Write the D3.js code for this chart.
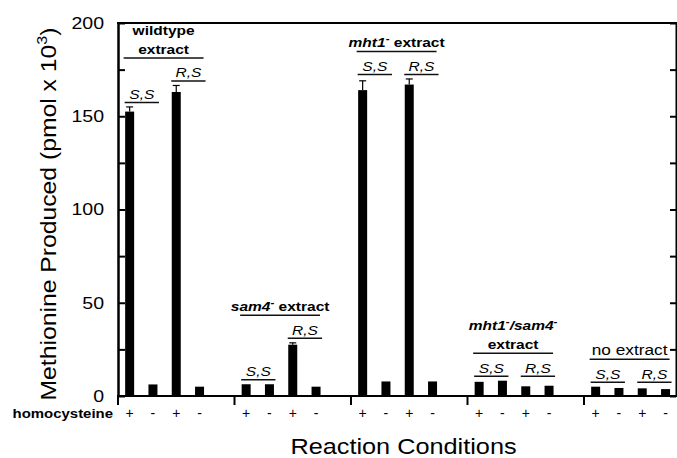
<!DOCTYPE html>
<head>
  <meta charset="utf-8">
  <title>Methionine Produced</title>
  <style>
    body {
      margin: 0;
      padding: 0;
      background-color: #fff;
    }
    svg text {
      font-family: 'Liberation Sans', Arial, Helvetica, sans-serif;
      fill: #000;
    }
    .frame line, .frame path {
      stroke: #000;
      stroke-width: 2;
    }
    .underline {
      stroke: #111;
      stroke-width: 1.5;
    }
  </style>
</head>
<body>
  <div id="vis"></div>

  <script src="https://cdn.jsdelivr.net/npm/d3@7"></script>
  <script>
    // extracts, 4 reactions each: S,S +/-, R,S +/- homocysteine
    var groupLabels = [
      ["wildtype", "extract"],
      ["_sam4_^ extract"],
      ["_mht1_^ extract"],
      ["_mht1_^_/sam4_^", "extract"],
      ["no extract"]
    ];
    var isomers = ["S,S", "S,S", "R,S", "R,S"];
    var homocysteine = ["+", "-", "+", "-"];
    var methionine = [
      [152.5, 6.2, 163, 5],
      [6.3, 6.3, 27.5, 5],
      [164, 7.8, 167, 7.8],
      [7.6, 8.2, 5.2, 5.5],
      [5, 4.3, 4.1, 3.7]
    ];
    var errors = [
      [2.5, 0, 3.5, 0],
      [0, 0, 1, 0],
      [5, 0, 3, 0],
      [0, 0, 0, 0],
      [0, 0, 0, 0]
    ];
    var yTicks = [0, 50, 100, 150, 200];
    var yMinor = [25, 75, 125, 175];

    var W = 677, H = 458,
        plotL = 118, plotR = 676, plotT = 23, plotB = 396,
        slotW = 23.3, barW = 9,
        SX = 1.15;   // the source type is a little wider than Liberation Sans

    var svg = d3.select("#vis").append("svg")
      .attr("width", W)
      .attr("height", H);

    var y = d3.scaleLinear().domain([0, 200]).range([plotB, plotT]);
    // 5 slots per extract: 4 bars and a gap
    var x = d3.scaleLinear().domain([0, 25]).range([plotL, plotL + slotW * 25]);
    function xc(slot) { return x(slot + 0.5); }

    var bars = [];
    methionine.forEach(function(row, g) {
      row.forEach(function(v, i) {
        bars.push({ g: g, i: i, v: v, e: errors[g][i], slot: g * 5 + i });
      });
    });

    function stretched(sel, px, py, anchor) {
      return sel.append("text")
        .attr("transform", "translate(" + px + "," + py + ") scale(" + SX + ",1)")
        .attr("text-anchor", anchor || "middle");
    }

    // "_x_" is italic, "^" a small superscript minus
    function rich(text, str) {
      var parts = str.split(/(_[^_]*_|\^)/).filter(function(p) { return p.length; });
      var raised = false;
      parts.forEach(function(p) {
        var t = text.append("tspan");
        if (p == "^") {
          t.text("-").attr("font-size", 10).attr("dy", -5);
          raised = true;
          return;
        }
        if (raised) { t.attr("dy", 5); raised = false; }
        if (p[0] == "_") {
          t.text(p.slice(1, -1)).attr("font-style", "italic");
        } else {
          t.text(p);
        }
      });
    }

    // bars
    svg.append("g").selectAll("rect")
      .data(bars)
      .enter().append("rect")
        .attr("x", function(d) { return xc(d.slot) - barW / 2; })
        .attr("width", barW)
        .attr("y", function(d) { return y(d.v); })
        .attr("height", function(d) { return y(0) - y(d.v); })
        .attr("fill", "#000");

    // error bars
    var err = svg.append("g").selectAll("g")
      .data(bars.filter(function(d) { return d.e > 0; }))
      .enter().append("g")
        .attr("stroke", "#000")
        .attr("stroke-width", 1.2);
    err.append("line")
      .attr("x1", function(d) { return xc(d.slot); })
      .attr("x2", function(d) { return xc(d.slot); })
      .attr("y1", function(d) { return y(d.v); })
      .attr("y2", function(d) { return y(d.v + d.e); });
    err.append("line")
      .attr("x1", function(d) { return xc(d.slot) - 3.5; })
      .attr("x2", function(d) { return xc(d.slot) + 3.5; })
      .attr("y1", function(d) { return y(d.v + d.e); })
      .attr("y2", function(d) { return y(d.v + d.e); });

    // axes and frame
    var frame = svg.append("g").attr("class", "frame");

    var yAxis = frame.append("g")
      .attr("transform", "translate(" + plotL + ",0)")
      .call(d3.axisLeft(y).tickValues(yTicks).tickSize(-7).tickSizeOuter(0).tickPadding(14));
    yAxis.selectAll("text")
      .attr("x", -14 / SX)
      .attr("transform", "scale(" + SX + ",1)")
      .style("font-size", "17px")
      .style("font-family", "'Liberation Sans', Arial, sans-serif");

    frame.append("g")
      .attr("transform", "translate(" + plotL + ",0)")
      .call(d3.axisLeft(y).tickValues(yMinor).tickSize(-7).tickSizeOuter(0).tickFormat(""));

    frame.append("g")
      .attr("transform", "translate(" + plotR + ",0)")
      .call(d3.axisRight(y).tickValues(yTicks.concat(yMinor)).tickSize(-6).tickSizeOuter(0).tickFormat(""));

    frame.append("line")
      .attr("x1", plotL - 1).attr("x2", W)
      .attr("y1", plotT).attr("y2", plotT);
    frame.append("line")
      .attr("x1", plotL - 1).attr("x2", W)
      .attr("y1", y(0)).attr("y2", y(0));

    frame.selectAll(".gtick")
      .data(d3.range(groupLabels.length))
      .enter().append("line")
        .attr("class", "gtick")
        .attr("x1", function(g) { return x(g * 5); })
        .attr("x2", function(g) { return x(g * 5); })
        .attr("y1", y(0))
        .attr("y2", y(0) + 9);

    // homocysteine +/- row
    stretched(svg, 113, 418, "end")
      .attr("font-size", 13)
      .attr("font-weight", "bold")
      .text("homocysteine");

    svg.append("g").selectAll("text")
      .data(bars)
      .enter().append("text")
        .attr("x", function(d) { return xc(d.slot); })
        .attr("y", 418)
        .attr("text-anchor", "middle")
        .attr("font-size", 14)
        .text(function(d) { return homocysteine[d.i]; });

    // isomer and extract annotations
    var ann = svg.append("g");
    groupLabels.forEach(function(lines, g) {
      var levels = [0, 1].map(function(p) {
        var hi = d3.max([0, 1], function(k) {
          var i = p * 2 + k;
          return methionine[g][i] + errors[g][i];
        });
        return y(hi) - 4.5;
      });
      if (Math.abs(levels[0] - levels[1]) < 12) {
        levels = [d3.min(levels), d3.min(levels)];
      }

      [0, 1].forEach(function(p) {
        var s0 = g * 5 + p * 2, s1 = s0 + 1;
        ann.append("line")
          .attr("class", "underline")
          .attr("x1", xc(s0) - 5).attr("x2", xc(s1) + 6)
          .attr("y1", levels[p]).attr("y2", levels[p]);
        stretched(ann, (xc(s0) + xc(s1)) / 2 + 0.5, levels[p] - 3.5)
          .attr("font-size", 13.5)
          .attr("font-style", "italic")
          .text(isomers[p * 2]);
      });

      var gl = d3.min(levels) - 23,
          gx1 = xc(g * 5) - 6,
          gx2 = xc(g * 5 + 3) + 4,
          plain = lines[0] == "no extract";
      ann.append("line")
        .attr("class", "underline")
        .attr("x1", gx1).attr("x2", gx2)
        .attr("y1", gl).attr("y2", gl);
      lines.forEach(function(str, k) {
        var t = stretched(ann, (gx1 + gx2) / 2, gl - 4 - (lines.length - 1 - k) * 19)
          .attr("font-size", plain ? 15 : 13.5)
          .attr("font-weight", plain ? "normal" : "bold");
        rich(t, str);
      });
    });

    // axis titles
    var yTitle = svg.append("text")
      .attr("transform", "translate(56,214) rotate(-90) scale(" + SX + ",1)")
      .attr("text-anchor", "middle")
      .attr("font-size", 21.5);
    yTitle.append("tspan").text("Methionine Produced (pmol x 10");
    yTitle.append("tspan").text("3").attr("font-size", 14).attr("dy", -9);
    yTitle.append("tspan").text(")").attr("dy", 9);

    stretched(svg, 403.5, 454)
      .attr("font-size", 22)
      .text("Reaction Conditions");
  </script>
</body>
